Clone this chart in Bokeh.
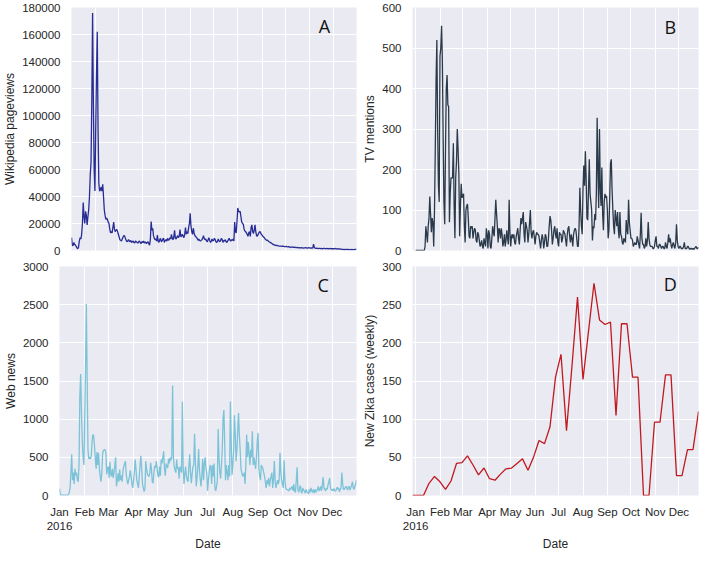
import numpy as np
from bokeh.plotting import figure
from bokeh.layouts import column, row
from bokeh.models import FixedTicker, Range1d, Label, NumeralTickFormatter
from bokeh.embed import file_html
from bokeh.resources import INLINE

# ---------------- data ----------------
month_labels = ["Jan\n2016", "Feb", "Mar", "Apr", "May", "Jun",
                "Jul", "Aug", "Sep", "Oct", "Nov", "Dec"]

# Panel A: Wikipedia pageviews, daily, 2016-01-01 .. 2016-12-31
wiki = [
    # Jan
    9500, 4000, 3600, 6000, 4500, 4000, 3000, 2000, 1300, 2500, 7000, 9500, 8500, 12000, 20000, 35500,
    25000, 20000, 29000, 26000, 19000, 25000, 30000, 40000, 56000, 65000, 110000, 176000, 110000, 60000, 44000,
    # Feb
    90000, 130000, 162000, 90000, 50000, 44000, 45000, 47000, 44000, 49000, 40000, 30000, 26000, 23000, 24000,
    23000, 21000, 20000, 16000, 13000, 14000, 13000, 17000, 21000, 16000, 14000, 15000, 15500, 14000,
    # Mar
    12000, 10000, 8000, 7500, 7000, 8500, 10000, 11000, 10800, 9000, 7500, 6500, 7000, 8000, 7000, 6500,
    7500, 6000, 6500, 7000, 6000, 5500, 7000, 6500, 6000, 5500, 6500, 7000, 6000, 5000, 6500,
    # Apr
    6000, 7000, 5500, 6500, 6000, 5000, 6000, 6500, 5000, 4000, 8000, 21500, 15000, 16500, 11000, 9000,
    8000, 8500, 7000, 11500, 7000, 6000, 8000, 9000, 6500, 7000, 8500, 9000, 6000, 7500,
    # May
    8000, 7000, 9000, 7500, 8000, 9500, 8500, 12000, 9000, 8000, 10000, 15000, 9000, 8500, 10000, 11000,
    9500, 11000, 15500, 10000, 11000, 12000, 10500, 9500, 12000, 17000, 12000, 14000, 12500, 17000, 20000,
    # Jun
    27500, 18000, 14000, 12000, 16500, 13000, 11000, 10500, 9500, 9000, 7500, 8500, 7500, 7000, 7500,
    8000, 9000, 11000, 9000, 8000, 8500, 7000, 6500, 8000, 9500, 7500, 6000, 7000, 8500, 7000,
    # Jul
    7500, 9000, 8000, 6500, 6000, 7000, 8500, 7000, 6500, 7500, 9000, 8000, 6000, 7500, 7000, 8000,
    6500, 6000, 7000, 8000, 9000, 7500, 7000, 8000, 7500, 8500, 7000, 21000, 14000, 13000, 22000,
    # Aug
    31500, 29000, 28500, 29000, 25000, 21000, 20000, 19500, 16000, 14500, 14000, 13000, 12000, 10500, 13000,
    14000, 10500, 17000, 19000, 14000, 12500, 15000, 19000, 14000, 11000, 10500, 12000, 13000, 14000, 13500, 12000,
    # Sep
    11500, 10500, 10000, 9500, 8500, 8000, 7500, 7600, 7000, 6500, 6200, 5800, 5500, 5000, 4500,
    4300, 4000, 3900, 3800, 3700, 3600, 3400, 3300, 3300, 3200, 3300, 3100, 3200, 3000, 2900,
    # Oct
    2900, 3000, 2800, 2700, 2900, 2600, 2500, 2400, 2500, 2600, 2400, 2300, 2500, 2200, 2100, 2300,
    2200, 2000, 2100, 1900, 2000, 2100, 1900, 1800, 2000, 1900, 2100, 2000, 1800, 1900, 2100,
    # Nov
    2000, 1800, 1900, 1700, 2000, 4800, 2200, 1700, 1600, 1800, 1500, 1400, 1600, 1500, 1400,
    1500, 1300, 1400, 1600, 1500, 1400, 1300, 1500, 1400, 1300, 1400, 1500, 1300, 1400, 1300,
    # Dec
    1400, 1300, 1200, 1500, 1300, 1200, 1100, 1300, 1200, 1000, 1100, 900, 800, 900, 700, 800,
    700, 900, 800, 700, 800, 700, 600, 700, 800, 700, 600, 700, 800, 900, 1000,
]

# Panel B: TV mentions, daily, 2016-01-01 .. 2016-12-26
tv = [
    0, 0, 0, 0, 0, 0, 0, 0, 0, 0, 0, 0, 10, 60, 40, 20, 60, 80, 133, 90, 45, 80, 70, 10, 100, 250,
    420, 520, 300, 160, 120, 480, 500, 555, 470, 280, 120, 65, 250, 400, 433, 360, 355, 70, 140, 180,
    178, 180, 265, 110, 30, 180, 220, 300, 250, 190, 35, 110, 165, 130, 135, 140, 60, 20, 100, 110,
    115, 80, 35, 30, 60, 55, 60, 30, 45, 55, 50, 25, 20, 45, 40, 25, 10, 15, 25, 10, 5, 30, 20, 10,
    55, 40, 5, 50, 40, 10, 5, 30, 60, 45, 35, 80, 125, 90, 60, 20, 55, 50, 30, 55, 40, 10, 20, 40,
    10, 25, 50, 30, 15, 125, 45, 10, 35, 40, 30, 40, 20, 15, 35, 45, 55, 30, 15, 50, 80, 65, 80, 95,
    40, 20, 70, 60, 50, 20, 40, 70, 100, 45, 30, 45, 50, 35, 15, 35, 45, 40, 40, 35, 20, 5, 25, 40,
    30, 5, 20, 40, 35, 10, 10, 30, 60, 85, 75, 50, 15, 30, 50, 60,
    40, 30, 55, 20, 10, 45, 40, 40, 20, 30, 50, 45, 40, 25, 10, 40, 55, 60, 35, 20, 40, 30, 10, 40,
    50, 55, 50, 30, 10, 10, 60, 155, 100, 60, 40, 150, 210, 160, 245, 180, 80, 75, 150, 225, 140, 120,
    100, 25, 60, 55, 90, 75, 140, 328, 200, 105, 300, 150, 110, 205, 90, 50, 120, 140, 130, 135, 100,
    30, 50, 130, 215, 225, 150, 100, 60, 40, 100, 80, 60, 95, 50, 30, 95, 40, 35, 20, 15, 30, 25, 20,
    75, 50, 40, 125, 70, 50, 30, 30, 25, 10, 15, 20, 15, 15, 35, 25, 15, 5, 40, 93, 30, 15, 15, 5, 10,
    30, 10, 25, 70, 30, 15, 10, 10, 10, 5, 5, 10, 25, 35, 10, 10, 5, 15, 15, 10, 5, 10, 10, 5, 5, 20,
    10, 5, 20, 40, 20, 30, 15, 5, 15, 20, 10, 5, 20, 65, 25, 10, 5, 10, 10, 5, 5, 5, 10, 20, 5, 5, 5,
    10, 10, 5, 3, 5, 5, 3, 5, 3, 5, 8, 10, 5, 5, 8,
]

# Panel C: Web news, daily, 2016-01-01 .. 2016-12-31
web = [
    # Jan
    90, 20, 5, 5, 5, 5, 5, 5, 5, 5, 5, 10, 40, 100, 300, 540, 200, 300, 150, 350, 260, 300, 200, 180,
    400, 1300, 1590, 1100, 700, 500, 400,
    # Feb
    1000, 1700, 2510, 1500, 600, 480, 500, 480, 520, 700, 800, 780, 650, 480, 350, 570, 400, 560, 350,
    250, 180, 300, 550, 590, 600, 600, 560, 280, 350,
    # Mar
    380, 230, 440, 280, 250, 350, 230, 300, 400, 500, 120, 200, 290, 180, 340, 200, 260, 180, 330, 380,
    420, 450, 280, 200, 150, 200, 250, 330, 250, 150, 100,
    # Apr
    200, 300, 470, 350, 200, 150, 100, 250, 400, 520, 350, 150, 100, 50, 90, 450, 350, 280, 260, 250,
    290, 430, 350, 180, 160, 300, 390, 360, 450, 350,
    # May
    260, 240, 380, 260, 470, 420, 500, 580, 350, 260, 420, 380, 360, 480, 420, 500, 460, 510, 1440, 500,
    380, 330, 300, 470, 350, 370, 220, 380, 330, 300, 1230,
    # Jun
    380, 150, 280, 380, 250, 200, 180, 380, 540, 300, 160, 280, 380, 400, 810, 450, 120, 230, 380, 610,
    330, 200, 120, 280, 480, 200, 420, 500, 350, 300,
    # Jul
    60, 200, 300, 400, 380, 150, 400, 250, 420, 100, 60, 120, 200, 870, 500, 300, 220, 400, 600, 1000,
    1120, 700, 200, 400, 300, 200, 400, 250, 1230, 700, 270,
    # Aug
    400, 600, 1050, 800, 450, 600, 850, 1080, 800, 600, 350, 300, 250, 270, 300, 150, 400, 800, 500, 700,
    550, 400, 600, 500, 840, 400, 500, 420, 350, 500, 700,
    # Sep
    820, 350, 250, 200, 400, 380, 350, 300, 250, 180, 100, 200, 150, 230, 120, 200, 250, 300, 100, 200,
    450, 200, 100, 150, 200, 150, 210, 560, 300, 200,
    # Oct
    150, 100, 460, 200, 100, 80, 75, 70, 60, 100, 80, 100, 120, 60, 150, 60, 40, 200, 370, 80, 40, 100,
    130, 50, 30, 100, 70, 60, 30, 80, 50,
    # Nov
    40, 20, 80, 40, 100, 60, 40, 80, 30, 80, 40, 60, 80, 120, 60, 80, 120, 60, 130, 240, 100, 80, 60,
    100, 80, 140, 180, 230, 100, 70,
    # Dec
    80, 60, 90, 70, 60, 70, 110, 80, 100, 50, 80, 100, 300, 150, 80, 80, 100, 120, 100, 70, 110, 120,
    70, 100, 130, 180, 100, 80, 120, 150, 200,
]

# Panel D: new Zika cases, weekly from 2015-12-28
zika = [
    0, 0, 0, 16, 25, 18, 8, 19, 42, 43, 52, 40, 27, 36, 22, 20, 28, 35, 36, 42, 48, 33, 50, 72, 68, 90,
    155, 185, 85, 170, 260, 152, 215, 278, 230, 224, 227, 105, 225, 225, 155, 155, 0, 0, 96, 96, 158,
    158, 26, 26, 60, 60, 110,
]

day0 = np.datetime64("2016-01-01")
wiki_dates = day0 + np.arange(len(wiki))
tv_dates = day0 + np.arange(len(tv))
web_dates = day0 + np.arange(len(web))
zika_dates = np.datetime64("2015-12-28") + 7 * np.arange(len(zika))

month_starts = np.array([np.datetime64("2016-%02d-01" % m) for m in range(1, 13)])
tick_ms = [float(v) for v in month_starts.astype("datetime64[ms]").astype(np.int64)]
overrides = {t: lab for t, lab in zip(tick_ms, month_labels)}


def ms(d):
    return float(np.datetime64(d).astype("datetime64[ms]").astype(np.int64))


FONT = "Liberation Sans"
TXT = "#262626"
BG = "#EAEAF2"

FW, FH = 297, 243


def make(ylabel, ymax, ystep, xstart, xend, left, right, top, bottom, show_x):
    w = left + FW + right
    h = top + FH + bottom
    p = figure(width=w, height=h, x_axis_type="datetime",
               x_range=Range1d(ms(xstart), ms(xend)), y_range=Range1d(0, ymax),
               output_backend="svg", toolbar_location=None,
               min_border_left=left, min_border_right=right,
               min_border_top=top, min_border_bottom=bottom)
    p.background_fill_color = BG
    p.border_fill_color = "white"
    p.outline_line_color = None
    xt = FixedTicker(ticks=tick_ms)
    p.xaxis.ticker = xt
    p.xgrid.ticker = xt
    p.yaxis.ticker = FixedTicker(ticks=list(range(0, ymax + 1, ystep)))
    p.yaxis.formatter = NumeralTickFormatter(format="0")
    p.grid.grid_line_color = "white"
    p.grid.grid_line_width = 1
    for ax in p.axis:
        ax.axis_line_color = None
        ax.major_tick_line_color = None
        ax.minor_tick_line_color = None
        ax.major_label_text_font = FONT
        ax.major_label_text_font_size = "11.5px"
        ax.major_label_text_color = TXT
        ax.axis_label_text_font = FONT
        ax.axis_label_text_font_size = "12px"
        ax.axis_label_text_font_style = "normal"
        ax.axis_label_text_color = TXT
    p.yaxis.axis_label = ylabel
    p.yaxis.major_label_standoff = 5
    p.yaxis.axis_label_standoff = 2
    if show_x:
        p.xaxis.axis_label = "Date"
        p.xaxis.major_label_overrides = overrides
        p.xaxis.major_label_standoff = 4
        p.xaxis.axis_label_standoff = 2
    else:
        p.xaxis.visible = False
    return p


pA = make("Wikipedia pageviews", 180000, 20000, "2016-01-01", "2016-12-31", 59, 4, 7, 7, False)
pB = make("TV mentions", 600, 100, "2015-12-28", "2016-12-26", 41, 6, 7, 7, False)
pC = make("Web news", 3000, 500, "2016-01-01", "2016-12-31", 59, 4, 9, 44, True)
pD = make("New Zika cases (weekly)", 300, 50, "2015-12-28", "2016-12-26", 41, 6, 9, 44, True)

pA.line(wiki_dates, wiki, line_color="#282c95", line_width=1.3)
pB.line(tv_dates, tv, line_color="#2b3a4a", line_width=1.3)
pC.line(web_dates, web, line_color="#7cc3d8", line_width=1.3)
pD.line(zika_dates, zika, line_color="#c0191f", line_width=1.3)

for p, letter, yv in [(pA, "A", 166000), (pB, "B", 553), (pC, "C", 2761), (pD, "D", 277)]:
    p.add_layout(Label(x=ms("2016-11-20"), y=yv, text=letter, text_font="Open Sans",
                       text_font_size="18px", text_align="center", text_baseline="middle",
                       text_color="#111111"))

layout = column(row(pA, pB), row(pC, pD))
open("out.html", "w").write(file_html(layout, INLINE))
